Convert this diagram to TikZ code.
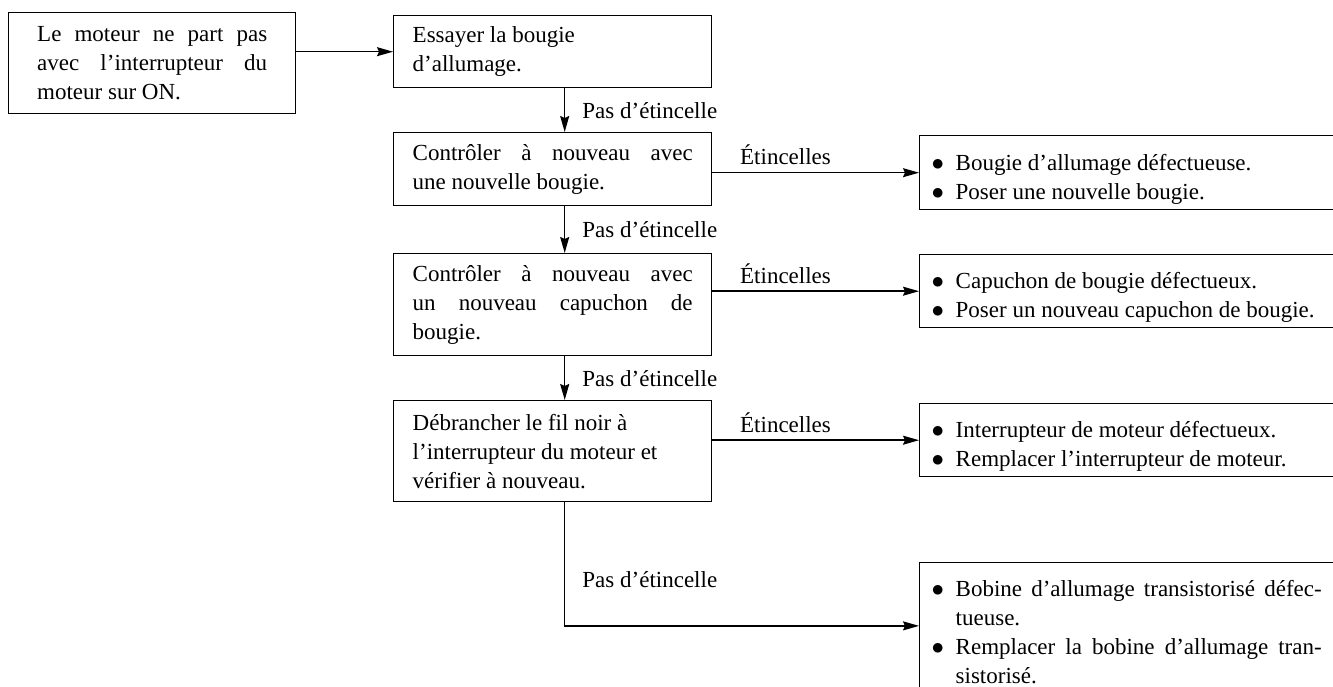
\documentclass[tikz,border=0pt]{standalone}
\usepackage{fontspec}
\setmainfont{Liberation Serif}
\usetikzlibrary{arrows.meta}

\tolerance=10000
\hbadness=10000
\hyphenpenalty=10000

% puce avec retrait suspendu
\newcommand{\puce}[1]{\par\noindent\hangindent=24pt\hangafter=1\makebox[24pt][l]{$\bullet$}#1\par}

\tikzset{
  etape/.style={draw, line width=1.4pt, anchor=north west, text width=280pt,
    align=justify, inner xsep=19pt, inner ysep=4pt,
    font=\fontsize{23}{29}\selectfont},
  remede/.style={draw, line width=1.4pt, anchor=north west, text width=390pt,
    align=justify, inner xsep=12pt, inner ysep=4pt,
    font=\fontsize{23}{29}\selectfont},
  lbl/.style={font=\fontsize{23}{24}\selectfont, inner sep=0pt},
  fleche/.style={line width=1.5pt, -{Stealth[length=16pt,width=9pt,inset=2pt]}}
}

\begin{document}
\begin{tikzpicture}[x=1pt, y=-1pt]
  \useasboundingbox (0,0) rectangle (1333,687);

  % colonne de gauche
  \node[etape, text width=230pt, inner xsep=28.5pt, minimum height=101pt] (A) at (8,12)
    {Le moteur ne part pas\linebreak avec l'interrupteur du\linebreak moteur sur ON.};
  \node[etape, minimum height=72pt] (B) at (393,15)
    {\rightskip=22pt Essayer la bougie\\ d'allumage.};
  \node[etape, minimum height=73pt] (C) at (393,132)
    {\rightskip=22pt Contrôler à nouveau avec\linebreak une nouvelle bougie.};
  \node[etape, minimum height=102pt] (D) at (393,253)
    {\rightskip=22pt Contrôler à nouveau avec\linebreak un nouveau capuchon de\linebreak bougie.};
  \node[etape, minimum height=101pt] (E) at (393,400)
    {\rightskip=22pt Débrancher le fil noir à\\ l'interrupteur du moteur et\\ vérifier à nouveau.};

  % remedes
  \node[remede, minimum height=74pt] (R1) at (919,135)
    {\puce{Bougie d'allumage défectueuse.}\puce{Poser une nouvelle bougie.}};
  \node[remede, minimum height=73pt] (R2) at (919,254)
    {\puce{Capuchon de bougie défectueux.}\puce{Poser un nouveau capuchon de bougie.}};
  \node[remede, minimum height=73pt] (R3) at (919,403)
    {\puce{Interrupteur de moteur défectueux.}\puce{Remplacer l'interrupteur de moteur.}};
  \node[remede, inner ysep=5pt] (R4) at (919,562)
    {\puce{Bobine d'allumage transistorisé défec-\linebreak tueuse.}\puce{Remplacer la bobine d'allumage tran-\linebreak sistorisé.}\vspace*{36pt}};

  % fleches
  \draw[fleche] (A.east |- B.west) -- (B.west);
  \draw[fleche] ([xshift=12pt]B.south) -- ([xshift=12pt]C.north)
    node[lbl, midway, anchor=west, xshift=17pt] {Pas d'étincelle};
  \draw[fleche] ([xshift=12pt]C.south) -- ([xshift=12pt]D.north)
    node[lbl, midway, anchor=west, xshift=17pt] {Pas d'étincelle};
  \draw[fleche] ([xshift=12pt]D.south) -- ([xshift=12pt]E.north)
    node[lbl, midway, anchor=west, xshift=17pt] {Pas d'étincelle};

  \draw[fleche] (C.east |- R1.west) -- (R1.west)
    node[lbl, pos=0, anchor=base west, xshift=27pt, yshift=8pt] {Étincelles};
  \draw[fleche] (D.east |- R2.west) -- (R2.west)
    node[lbl, pos=0, anchor=base west, xshift=27pt, yshift=8pt] {Étincelles};
  \draw[fleche] (E.east |- R3.west) -- (R3.west)
    node[lbl, pos=0, anchor=base west, xshift=27pt, yshift=8pt] {Étincelles};

  \draw[fleche] ([xshift=12pt]E.south) |- (R4.west)
    node[lbl, pos=0.5, anchor=west, xshift=17pt, yshift=46pt] {Pas d'étincelle};
\end{tikzpicture}
\end{document}
